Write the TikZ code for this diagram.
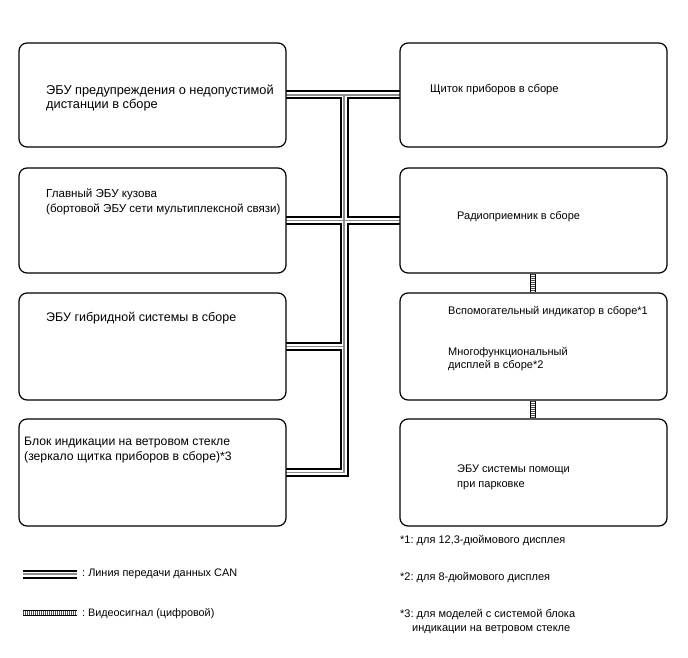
\documentclass[tikz,border=0pt]{standalone}
\usepackage{fontspec}
\setmainfont{Liberation Sans}
\frenchspacing
\begin{document}
\begin{tikzpicture}[x=1pt,y=-1pt,
  box/.style={draw=black, line width=1.2pt, rounded corners=8pt, inner sep=0pt, fill=white},
  lbl/.style={anchor=base west, inner sep=0pt, align=left, font=\fontsize{11}{14}\selectfont},
  can/.style={draw=black, line width=9pt, line join=miter,
    postaction={draw=white, line width=5pt},
    postaction={draw=black!45, line width=1.3pt}},
  video/.style={draw=black, line width=0.6pt, double=white, double distance=4.6pt,
    postaction={draw=black!70, line width=4.6pt, dash pattern=on 0.6pt off 1.4pt}}
]
\useasboundingbox (0,0) rectangle (688,658);

\coordinate (t1) at (344,95);

% CAN network (drawn first, boxes cover ends)
\path[can]
  (286,95) -- (400,95)
  (286,220.5) -- (400,220.5)
  (286,346.5) -- (344,346.5)
  (t1) |- (286,472.5);

\node[box, minimum width=267pt, minimum height=104pt] (b1l) at (152.5,95) {};
\node[box, minimum width=267pt, minimum height=104pt] (b1r) at (533.5,95) {};
\node[box, minimum width=267pt, minimum height=105pt] (b2l) at (152.5,220.5) {};
\node[box, minimum width=267pt, minimum height=105pt] (b2r) at (533.5,220.5) {};
\node[box, minimum width=267pt, minimum height=107pt] (b3l) at (152.5,346.5) {};
\node[box, minimum width=267pt, minimum height=107pt] (b3r) at (533.5,346.5) {};
\node[box, minimum width=267pt, minimum height=107pt] (b4l) at (152.5,472.5) {};
\node[box, minimum width=267pt, minimum height=107pt] (b4r) at (533.5,472.5) {};

% video links
\coordinate (vx) at (533,0);
\draw[video] (b2r.south -| vx) -- (b3r.north -| vx);
\draw[video] (b3r.south -| vx) -- (b4r.north -| vx);

% labels (anchor = baseline of last line)
\node[lbl, font=\fontsize{12.8}{14}\selectfont] (l1) at (46,109) {ЭБУ предупреждения о недопустимой\\дистанции в сборе};
\node[lbl, font=\fontsize{11.2}{14}\selectfont] (l2) at (430,93) {Щиток приборов в сборе};
\node[lbl, font=\fontsize{11.6}{15}\selectfont] (l3) at (46,212) {Главный ЭБУ кузова\\(бортовой ЭБУ сети мультиплексной связи)};
\node[lbl] (l4) at (457,219.3) {Радиоприемник в сборе};
\node[lbl, font=\fontsize{12.5}{14}\selectfont] (l5) at (46,321) {ЭБУ гибридной системы в сборе};
\node[lbl] (l6) at (448,314) {Вспомогательный индикатор в сборе*1};
\node[lbl, font=\fontsize{11}{13}\selectfont] (l7) at (448,368) {Многофункциональный\\дисплей в сборе*2};
\node[lbl, font=\fontsize{12.2}{15}\selectfont] (l8) at (24,460) {Блок индикации на ветровом стекле\\(зеркало щитка приборов в сборе)*3};
\node[lbl, font=\fontsize{11}{15}\selectfont] (l9) at (457,487) {ЭБУ системы помощи\\при парковке};

% notes
\node[lbl] (n1) at (400,543) {*1: для 12,3-дюймового дисплея};
\node[lbl] (n2) at (400,580) {*2: для 8-дюймового дисплея};
\node[lbl] (n3) at (400,631) {*3: для моделей с системой блока\\\hspace*{12pt}индикации на ветровом стекле};

% legend
\coordinate (lc1) at (23,574);
\coordinate (lc2) at (77,574);
\path[can] (lc1) -- (lc2);
\node[lbl, font=\fontsize{10.9}{14}\selectfont] (lt1) at (82,576.7) {: Линия передачи данных CAN};
\coordinate (lv1) at (23,613);
\coordinate (lv2) at (77,613);
\draw[video] (lv1) -- (lv2);
\node[lbl, font=\fontsize{10.8}{14}\selectfont] (lt2) at (82,616.7) {: Видеосигнал (цифровой)};
\end{tikzpicture}
\end{document}
